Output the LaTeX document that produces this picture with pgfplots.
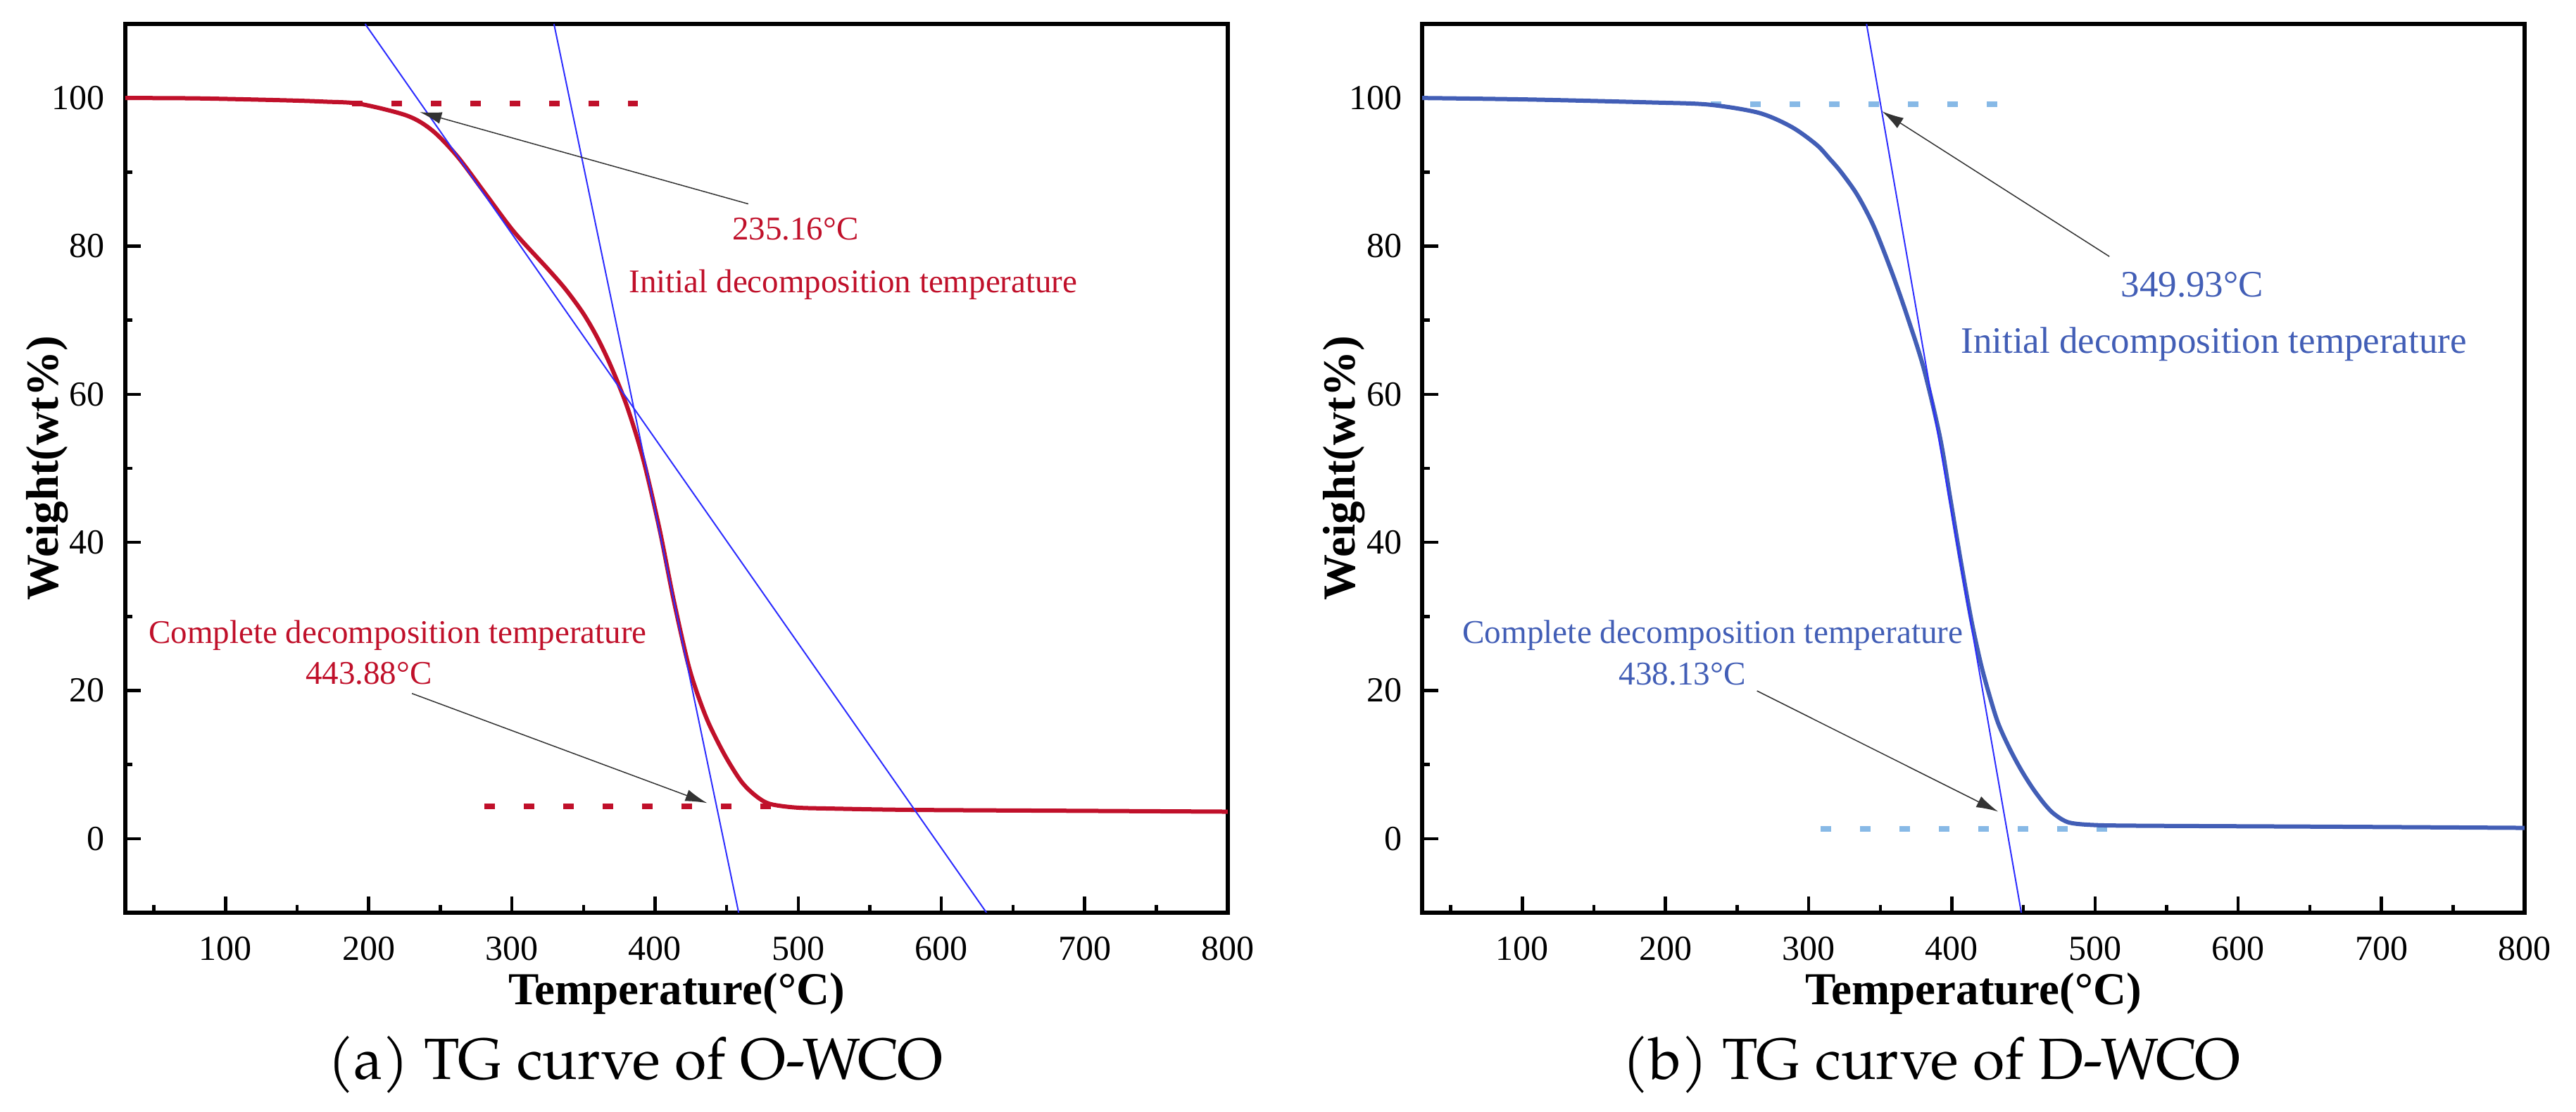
\documentclass[border=0pt]{standalone}
\usepackage{fontspec}
\setmainfont{Liberation Serif}
\newfontfamily\capfont{texgyrepagella-regular.otf}
\usepackage{pgfplots}
\pgfplotsset{compat=1.18}
\usetikzlibrary{arrows.meta}

\definecolor{cred}{RGB}{192,16,42}
\definecolor{cblue}{RGB}{66,94,182}
\definecolor{tblue}{RGB}{45,45,255}
\definecolor{dblue}{RGB}{135,185,230}

\pgfplotsset{tgaxis/.style={
  scale only axis, width=313.2pt, height=252.4pt,
  xmin=30, xmax=800, ymin=-10, ymax=110,
  xtick={100,200,...,800}, ytick={0,20,...,100},
  minor xtick={50,150,...,750}, minor ytick={10,30,50,70,90},
  tick align=inside, xtick pos=left, ytick pos=left,
  major tick length=4.5pt, minor tick length=2.1pt,
  major tick style={line width=0.9pt, black},
  minor tick style={line width=0.9pt, black},
  axis line style={line width=1.05pt},
  /pgf/number format/assume math mode=true,
  ticklabel style={font=\fontsize{10}{12}\selectfont},
  xticklabel style={anchor=base, yshift=-13.6pt, inner sep=0pt},
  yticklabel style={anchor=east, xshift=-5.6pt, inner sep=0pt},
  xlabel={Temperature(°C)}, ylabel={Weight(wt\%)},
  label style={font=\bfseries\fontsize{13}{15}\selectfont, inner sep=0pt},
  xlabel style={at={(axis description cs:0.5,-0.1038)}, anchor=base},
  ylabel style={at={(axis description cs:-0.0613,0.5)}, anchor=base},
  clip mode=individual,
}}

\begin{document}
\begin{tikzpicture}
\useasboundingbox (-35.6pt,-56.6pt) rectangle (696.2pt,259.2pt);

% ---------------- (a) O-WCO ----------------
\begin{axis}[tgaxis, at={(0pt,0pt)}, anchor=south west]
\addplot[cred, line width=1.6pt, dash pattern=on 3pt off 8.2pt, mark=none] coordinates {(188.5,99.28) (387.8,99.28)};
\addplot[cred, line width=1.6pt, dash pattern=on 3pt off 8.2pt, mark=none] coordinates {(281,4.40) (482.3,4.40)};
\addplot[cred, line width=1.2pt, smooth, mark=none] coordinates {
 (30,100) (80,99.95) (139,99.7) (170,99.5) (194,99.2) (227,97.6) (244.5,95.6)
 (262,92.1) (281.8,87.0) (301.6,81.9) (325.7,76.8) (337.8,74.1) (349.9,70.9)
 (359.8,67.6) (369.6,63.6) (380.5,58.3) (391.5,51.4) (403,41.9) (412.8,32.4)
 (422.7,23.9) (429.2,19.75) (437.4,15.6) (448.9,11.2) (460.3,7.7) (470.2,5.8)
 (480,4.7) (498,4.2) (522.6,4.06) (580,3.88) (700,3.75) (800,3.64)};
\addplot[tblue, line width=0.4pt, mark=none] coordinates {(197.5,110) (631.5,-10)};
\addplot[tblue, line width=0.4pt, mark=none] coordinates {(329.4,110) (458.4,-10)};
\addplot[black!80, line width=0.3pt, mark=none, -{Latex[length=6.2pt,width=3.4pt]}] coordinates {(465.1,85.7) (235.7,98.1)};
\addplot[black!80, line width=0.3pt, mark=none, -{Latex[length=6.2pt,width=3.4pt]}] coordinates {(230.2,19.6) (436.4,4.8)};
\begin{scope}[every node/.style={text=cred, font=\fontsize{9.4}{11}\selectfont, anchor=base}]
\node at (axis cs:498,80.85) {235.16°C};
\node at (axis cs:538.4,73.7) {Initial decomposition temperature};
\node at (axis cs:220.3,26.4) {Complete decomposition temperature};
\node at (axis cs:200,20.9) {443.88°C};
\end{scope}
\node[anchor=base, font=\capfont\fontsize{16.5}{19}\selectfont] at ([yshift=-47.4pt]rel axis cs:0.4623,0) {(a) TG curve of O-WCO};
\end{axis}

% ---------------- (b) D-WCO ----------------
\begin{axis}[tgaxis, at={(368.4pt,0pt)}, anchor=south west]
\addplot[dblue, line width=1.6pt, dash pattern=on 3pt off 8.2pt, mark=none] coordinates {(231.5,99.15) (431.9,99.15)};
\addplot[dblue, line width=1.6pt, dash pattern=on 3pt off 8.2pt, mark=none] coordinates {(308.3,1.32) (508.6,1.32)};
\addplot[cblue, line width=1.2pt, smooth, mark=none] coordinates {
 (30,100) (104,99.8) (190,99.4) (230.5,99.1) (265.1,98.0) (288,96.1) (305.4,93.7)
 (314.6,91.8) (322.6,90.0) (334,86.9) (345.6,82.6) (358.4,76.3) (368.7,70.6)
 (380.2,63.6) (391.7,54.2) (399,45.8) (406.1,37.6) (413.5,29.6) (420,23.8) (425.7,19.7)
 (432.3,15.6) (440.5,12.1) (448.6,9.2) (456.8,6.7) (465,4.6) (471.6,3.3)
 (481.4,2.2) (497.7,1.85) (530.5,1.74) (663.9,1.61) (800,1.45)};
\addplot[tblue, line width=0.4pt, mark=none] coordinates {(340.4,110) (448.5,-10)};
\addplot[black!80, line width=0.3pt, mark=none, -{Latex[length=6.2pt,width=3.4pt]}] coordinates {(510,78.6) (351.2,98.2)};
\addplot[black!80, line width=0.3pt, mark=none, -{Latex[length=6.2pt,width=3.4pt]}] coordinates {(263.9,19.95) (432.3,3.65)};
\begin{scope}[every node/.style={text=cblue, anchor=base}]
\node[font=\fontsize{10.6}{12}\selectfont] at (axis cs:567.8,73.2) {349.93°C};
\node[font=\fontsize{10.6}{12}\selectfont] at (axis cs:583,65.5) {Initial decomposition temperature};
\node[font=\fontsize{9.45}{11}\selectfont] at (axis cs:233,26.4) {Complete decomposition temperature};
\node[font=\fontsize{9.45}{11}\selectfont] at (axis cs:211.8,20.8) {438.13°C};
\end{scope}
\node[anchor=base, font=\capfont\fontsize{16.5}{19}\selectfont] at ([yshift=-47.4pt]rel axis cs:0.462,0) {(b) TG curve of D-WCO};
\end{axis}
\end{tikzpicture}
\end{document}
